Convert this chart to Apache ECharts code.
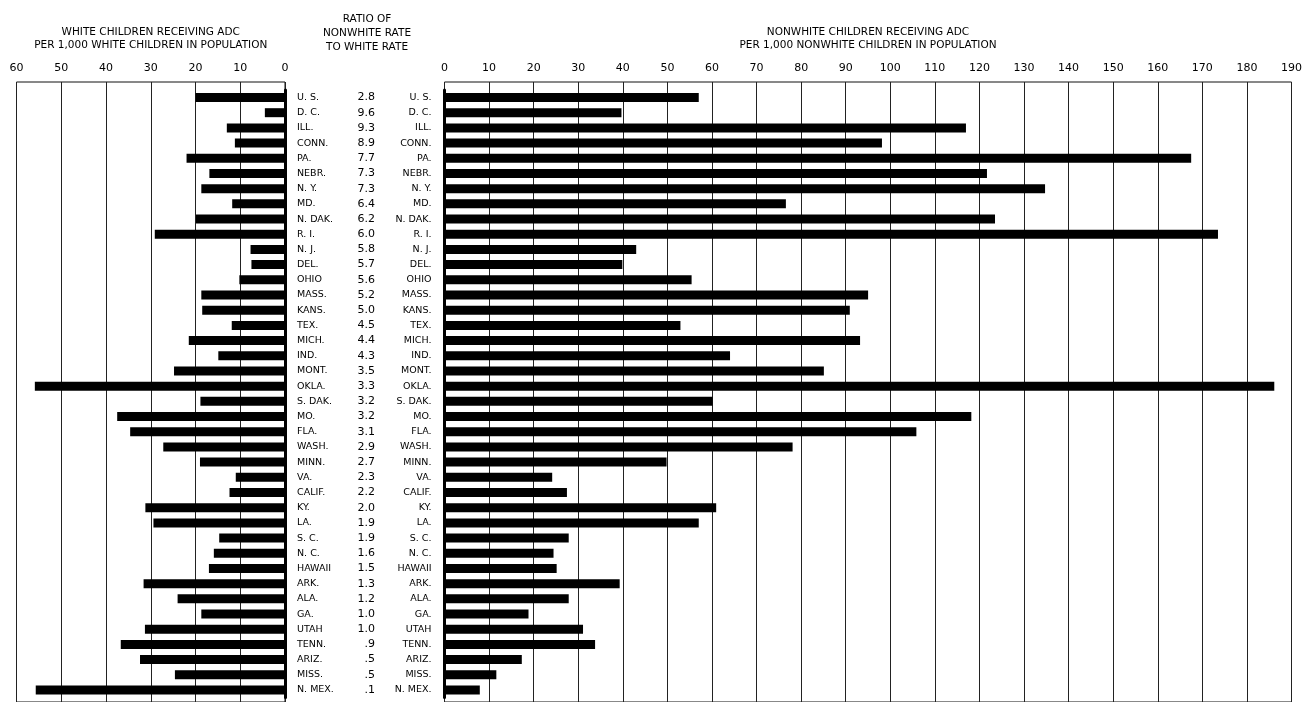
<!DOCTYPE html>
<html>
<head>
<meta charset="utf-8">
<script src="https://cdn.jsdelivr.net/npm/echarts@6/dist/echarts.min.js"></script>
<style>
html,body{margin:0;padding:0;background:#fff;}
#chart{width:1305px;height:702px;}
</style>
</head>
<body>
<div id="chart"></div>
<script>
const states = ["U. S.","D. C.","ILL.","CONN.","PA.","NEBR.","N. Y.","MD.","N. DAK.","R. I.","N. J.","DEL.","OHIO","MASS.","KANS.","TEX.","MICH.","IND.","MONT.","OKLA.","S. DAK.","MO.","FLA.","WASH.","MINN.","VA.","CALIF.","KY.","LA.","S. C.","N. C.","HAWAII","ARK.","ALA.","GA.","UTAH","TENN.","ARIZ.","MISS.","N. MEX."];
const ratios = ["2.8","9.6","9.3","8.9","7.7","7.3","7.3","6.4","6.2","6.0","5.8","5.7","5.6","5.2","5.0","4.5","4.4","4.3","3.5","3.3","3.2","3.2","3.1","2.9","2.7","2.3","2.2","2.0","1.9","1.9","1.6","1.5","1.3","1.2","1.0","1.0",".9",".5",".5",".1"];
const whiteRate = [20,4.5,13,11.2,22,16.9,18.7,11.8,19.9,29.1,7.7,7.5,10.2,18.7,18.5,11.9,21.5,14.9,24.8,55.9,18.9,37.5,34.6,27.2,19,11,12.4,31.2,29.4,14.7,15.9,17,31.6,24,18.7,31.3,36.7,32.4,24.6,55.7];
const nonwhiteRate = [56.9,39.6,116.7,97.9,167.1,121.4,134.4,76.4,123.2,173.1,42.9,39.8,55.3,94.8,90.7,52.8,93.0,63.9,84.9,185.7,60.0,117.9,105.6,77.9,49.7,24.1,27.4,60.8,56.9,27.8,24.4,25.1,39.2,27.8,18.8,31.0,33.7,17.3,11.6,7.9];
const whiteTitle = "WHITE CHILDREN RECEIVING ADC\nPER 1,000 WHITE CHILDREN IN POPULATION";
const ratioTitle = "RATIO OF\nNONWHITE RATE\nTO WHITE RATE";
const nonwhiteTitle = "NONWHITE CHILDREN RECEIVING ADC\nPER 1,000 NONWHITE CHILDREN IN POPULATION";

const FONT = "DejaVu Sans";
const chart = echarts.init(document.getElementById('chart'), null, {renderer:'canvas'});

const L0 = 16.5, L1 = 285, R0 = 444.5, R1 = 1293.5;
const frameTop = 82, barTop = 89.9, barH = 607.7;

const frameX = (inverse, max, name) => ({
  type:'value', min:0, max:max, interval:10, inverse:inverse, position:'top',
  axisLine:{show:false}, axisTick:{show:false},
  axisLabel:{show:true, color:'#000', fontFamily:FONT, fontSize:11, margin:8},
  splitLine:{show:true, lineStyle:{color:'#222', width:1}},
  name:name, nameLocation:'middle', nameGap:30,
  nameTextStyle:{color:'#000', fontFamily:FONT, fontSize:10.5, lineHeight:13}
});
const barX = (inverse, max) => ({
  type:'value', min:0, max:max, inverse:inverse, show:true,
  axisLine:{show:false}, axisTick:{show:false}, axisLabel:{show:false}, splitLine:{show:false}
});

chart.setOption({
  backgroundColor:'#fff',
  animation:false,
  grid:[
    {left:L0, width:L1-L0, top:frameTop, bottom:-3, show:true, borderColor:'#111', borderWidth:1, backgroundColor:'transparent'},
    {left:L0, width:L1-L0, top:barTop, height:barH},
    {left:R0, width:R1-R0, top:frameTop, bottom:-3, show:true, borderColor:'#111', borderWidth:1, backgroundColor:'transparent'},
    {left:R0, width:R1-R0, top:barTop, height:barH}
  ],
  xAxis:[
    Object.assign(frameX(true, 60, whiteTitle), {gridIndex:0}),
    Object.assign(barX(true, 60), {gridIndex:1}),
    Object.assign(frameX(false, 190, nonwhiteTitle), {gridIndex:2}),
    Object.assign(barX(false, 190), {gridIndex:3})
  ],
  yAxis:[
    {gridIndex:0, type:'value', min:0, max:1, show:false},
    {gridIndex:1, type:'category', data:states, inverse:true, position:'right',
      axisLine:{show:true, onZero:false, lineStyle:{color:'#000', width:3}},
      axisTick:{show:false}, splitLine:{show:false},
      axisLabel:{margin:12, align:'left', interval:0,
        formatter:(v, i) => '{s|' + v + '}{r|' + ratios[i] + '}',
        rich:{
          s:{width:52, align:'left', fontFamily:FONT, fontSize:9.5, color:'#000'},
          r:{width:26, align:'right', fontFamily:FONT, fontSize:11, color:'#000'}
        }}},
    {gridIndex:2, type:'value', min:0, max:1, show:false},
    {gridIndex:3, type:'category', data:states, inverse:true, position:'left',
      axisLine:{show:true, onZero:false, lineStyle:{color:'#000', width:3}},
      axisTick:{show:false}, splitLine:{show:false},
      axisLabel:{margin:13, interval:0, fontFamily:FONT, fontSize:9.5, color:'#000'}}
  ],
  graphic:[
    {type:'text', x:367, y:12, style:{text:ratioTitle, textAlign:'center', fontFamily:FONT, fontSize:10.5, lineHeight:14, fill:'#000'}}
  ],
  series:[
    {type:'bar', name:'White', xAxisIndex:1, yAxisIndex:1, data:whiteRate, barWidth:9, itemStyle:{color:'#000'}, silent:true},
    {type:'bar', name:'Nonwhite', xAxisIndex:3, yAxisIndex:3, data:nonwhiteRate, barWidth:9, itemStyle:{color:'#000'}, silent:true}
  ]
});
</script>
</body>
</html>
